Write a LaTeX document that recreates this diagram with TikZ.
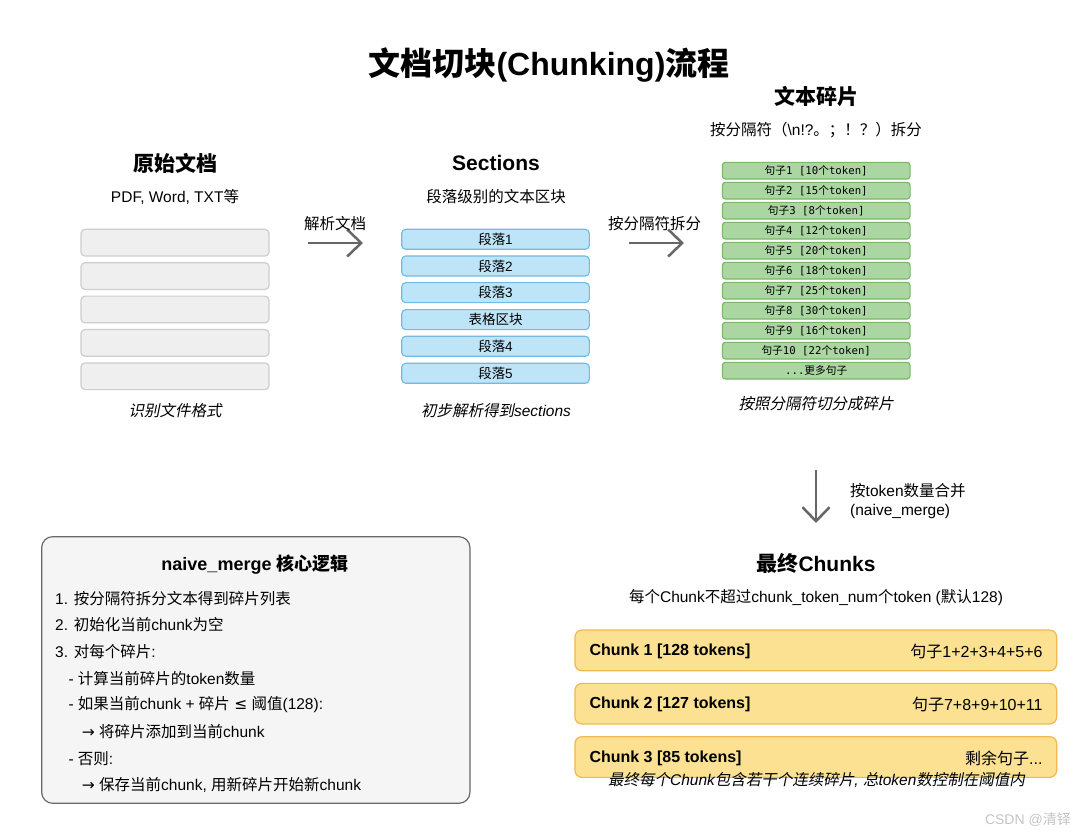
\documentclass[tikz,border=0pt]{standalone}
\usepackage{fontspec}
\setmainfont{Liberation Sans}
\setmonofont{DejaVu Sans Mono}
\newfontfamily\zhf{Noto Sans CJK SC}[ItalicFont={Noto Sans CJK SC},ItalicFeatures={FakeSlant=0.2}]
\newfontfamily\symf{DejaVu Sans}
\newcommand\zh[1]{{\zhf #1}}
\newcommand\fs[1]{\fontsize{#1}{#1}\selectfont}
\usetikzlibrary{arrows.meta}
\definecolor{grayfill}{RGB}{239,239,239}
\definecolor{grayline}{RGB}{206,206,206}
\definecolor{bluefill}{RGB}{190,228,248}
\definecolor{blueline}{RGB}{112,186,228}
\definecolor{greenfill}{RGB}{170,214,162}
\definecolor{greenline}{RGB}{120,182,106}
\definecolor{yelfill}{RGB}{251,225,145}
\definecolor{yelline}{RGB}{242,184,80}
\definecolor{notefill}{RGB}{245,245,245}
\definecolor{noteline}{RGB}{105,105,105}
\definecolor{arrowc}{RGB}{102,102,102}
\definecolor{wmark}{RGB}{196,196,196}
\tikzset{
  txt/.style={inner sep=0pt, font=\fs{15.5}},
  head/.style={inner sep=0pt, font=\bfseries\fs{21}},
  captxt/.style={inner sep=0pt, font=\itshape\fs{15.5}},
  graybox/.style={draw=grayline, fill=grayfill, rounded corners=4pt, line width=1.2pt, minimum width=188pt, minimum height=26.7pt, inner sep=0pt},
  bluebox/.style={draw=blueline, fill=bluefill, rounded corners=4pt, line width=1.1pt, minimum width=187.6pt, minimum height=20pt, inner sep=0pt, font=\fs{13.5}},
  greenbox/.style={draw=greenline, fill=greenfill, rounded corners=3pt, line width=1.1pt, minimum width=187.7pt, minimum height=16.7pt, inner sep=0pt, font=\ttfamily\fs{10.7}},
  chunkbox/.style={draw=yelline, fill=yelfill, rounded corners=7pt, line width=1.2pt, minimum width=481.7pt, minimum height=40.7pt, inner sep=0pt},
  notebox/.style={draw=noteline, fill=notefill, rounded corners=11pt, line width=1.2pt, minimum width=428.3pt, minimum height=266.6pt, inner sep=0pt},
  flowarrow/.style={draw=arrowc, line width=2.5pt, -{Straight Barb[length=14pt,width=27pt]}},
}
\begin{document}
\begin{tikzpicture}[x=1pt,y=-1pt]
\useasboundingbox[fill=white] (0,0) rectangle (1077,834);

% title
\node[inner sep=0pt, font=\bfseries\fs{32}] (title) at (549,65) {\zh{文档切块}(Chunking)\zh{流程}};

% column 1
\node[head] (h1) at (175,163) {\zh{原始文档}};
\node[txt] (s1) at (175,197) {PDF, Word, TXT\zh{等}};
\foreach \i in {0,...,4} {
  \node[graybox] (g\i) at (175,242.7+33.4*\i) {};
}
\node[captxt] (c1) at (175,411) {\zh{识别文件格式}};

% column 2
\node[head] (h2) at (496,163) {Sections};
\node[txt] (s2) at (496,197) {\zh{段落级别的文本区块}};
\node[bluebox] (b0) at (495.5,239.3) {\zh{段落}1};
\node[bluebox] (b1) at (495.5,266.0) {\zh{段落}2};
\node[bluebox] (b2) at (495.5,292.7) {\zh{段落}3};
\node[bluebox] (b3) at (495.5,319.7) {\zh{表格区块}};
\node[bluebox] (b4) at (495.5,346.3) {\zh{段落}4};
\node[bluebox] (b5) at (495.5,373.3) {\zh{段落}5};
\node[captxt] (c2) at (496,411) {\zh{初步解析得到}sections};

% column 3
\node[head] (h3) at (816,96) {\zh{文本碎片}};
\node[txt] (s3) at (816,130) {\zh{按分隔符（}\textbackslash n!?\zh{。；！？）拆分}};
\node[greenbox] (t0) at (816.2,170.7) {\zh{句子}1 [10\zh{个}token]};
\node[greenbox] (t1) at (816.2,190.7) {\zh{句子}2 [15\zh{个}token]};
\node[greenbox] (t2) at (816.2,210.7) {\zh{句子}3 [8\zh{个}token]};
\node[greenbox] (t3) at (816.2,230.7) {\zh{句子}4 [12\zh{个}token]};
\node[greenbox] (t4) at (816.2,250.7) {\zh{句子}5 [20\zh{个}token]};
\node[greenbox] (t5) at (816.2,270.7) {\zh{句子}6 [18\zh{个}token]};
\node[greenbox] (t6) at (816.2,290.7) {\zh{句子}7 [25\zh{个}token]};
\node[greenbox] (t7) at (816.2,310.7) {\zh{句子}8 [30\zh{个}token]};
\node[greenbox] (t8) at (816.2,330.7) {\zh{句子}9 [16\zh{个}token]};
\node[greenbox] (t9) at (816.2,350.7) {\zh{句子}10 [22\zh{个}token]};
\node[greenbox] (t10) at (816.2,370.7) {...\zh{更多句子}};
\node[captxt] (c3) at (816,404) {\zh{按照分隔符切分成碎片}};

% arrows between columns
\coordinate (a1s) at (308,243);
\coordinate (a1e) at (363,243);
\draw[flowarrow] (a1s) -- (a1e);
\node[txt] (l1) at (335,224) {\zh{解析文档}};

\coordinate (a2s) at (629,243);
\coordinate (a2e) at (684,243);
\draw[flowarrow] (a2s) -- (a2e);
\node[txt] (l2) at (654.5,224) {\zh{按分隔符拆分}};

\coordinate (a3s) at (816,470);
\coordinate (a3e) at (816,523);
\draw[flowarrow] (a3s) -- (a3e);
\node[txt, anchor=west] (l3a) at (850,491) {\zh{按}token\zh{数量合并}};
\node[txt, anchor=west] (l3b) at (850,511) {(naive\_merge)};

% final chunks
\node[head] (h4) at (816,563) {\zh{最终}Chunks};
\node[txt] (s4) at (816,598) {\zh{每个}Chunk\zh{不超过}chunk\_token\_num\zh{个}token (\zh{默认}128)};
\node[chunkbox] (k1) at (815.8,650.4) {};
\node[chunkbox] (k2) at (815.8,703.7) {};
\node[chunkbox] (k3) at (815.8,757.0) {};
\node[inner sep=0pt, font=\bfseries\fs{16}, anchor=west] (k1l) at (589.3,651) {Chunk 1 [128 tokens]};
\node[inner sep=0pt, font=\fs{16}, anchor=east] (k1r) at (1042.7,651) {\zh{句子}1+2+3+4+5+6};
\node[inner sep=0pt, font=\bfseries\fs{16}, anchor=west] (k2l) at (589.3,704.3) {Chunk 2 [127 tokens]};
\node[inner sep=0pt, font=\fs{16}, anchor=east] (k2r) at (1042.7,704.3) {\zh{句子}7+8+9+10+11};
\node[inner sep=0pt, font=\bfseries\fs{16}, anchor=west] (k3l) at (589.3,758) {Chunk 3 [85 tokens]};
\node[inner sep=0pt, font=\fs{16}, anchor=east] (k3r) at (1042.7,758) {\zh{剩余句子}...};
\node[captxt] (c4) at (816.5,779.5) {\zh{最终每个}Chunk\zh{包含若干个连续碎片}, \zh{总}token\zh{数控制在阈值内}};

% naive_merge note
\node[notebox] (note) at (255.8,670) {};
\node[inner sep=0pt, font=\bfseries\fs{18}] (nt) at (255,564.3) {naive\_merge \zh{核心逻辑}};
\node[txt, anchor=west] (n1) at (55,598.3) {1. \zh{按分隔符拆分文本得到碎片列表}};
\node[txt, anchor=west] (n2) at (55,625) {2. \zh{初始化当前}chunk\zh{为空}};
\node[txt, anchor=west] (n3) at (55,651.7) {3. \zh{对每个碎片}:};
\node[txt, anchor=west] (n4) at (68.3,678.3) {- \zh{计算当前碎片的}token\zh{数量}};
\node[txt, anchor=west] (n5) at (68.3,705) {- \zh{如果当前}chunk + \zh{碎片} {\symf ≤} \zh{阈值}(128):};
\node[txt, anchor=west] (n6) at (81.7,731.7) {{\symf →} \zh{将碎片添加到当前}chunk};
\node[txt, anchor=west] (n7) at (68.3,758.3) {- \zh{否则}:};
\node[txt, anchor=west] (n8) at (81.7,785) {{\symf →} \zh{保存当前}chunk, \zh{用新碎片开始新}chunk};

% watermark
\node[inner sep=0pt, font=\fs{14}, text=wmark, anchor=east] (wm) at (1071,820) {CSDN @\zh{清铎}};
\end{tikzpicture}
\end{document}
